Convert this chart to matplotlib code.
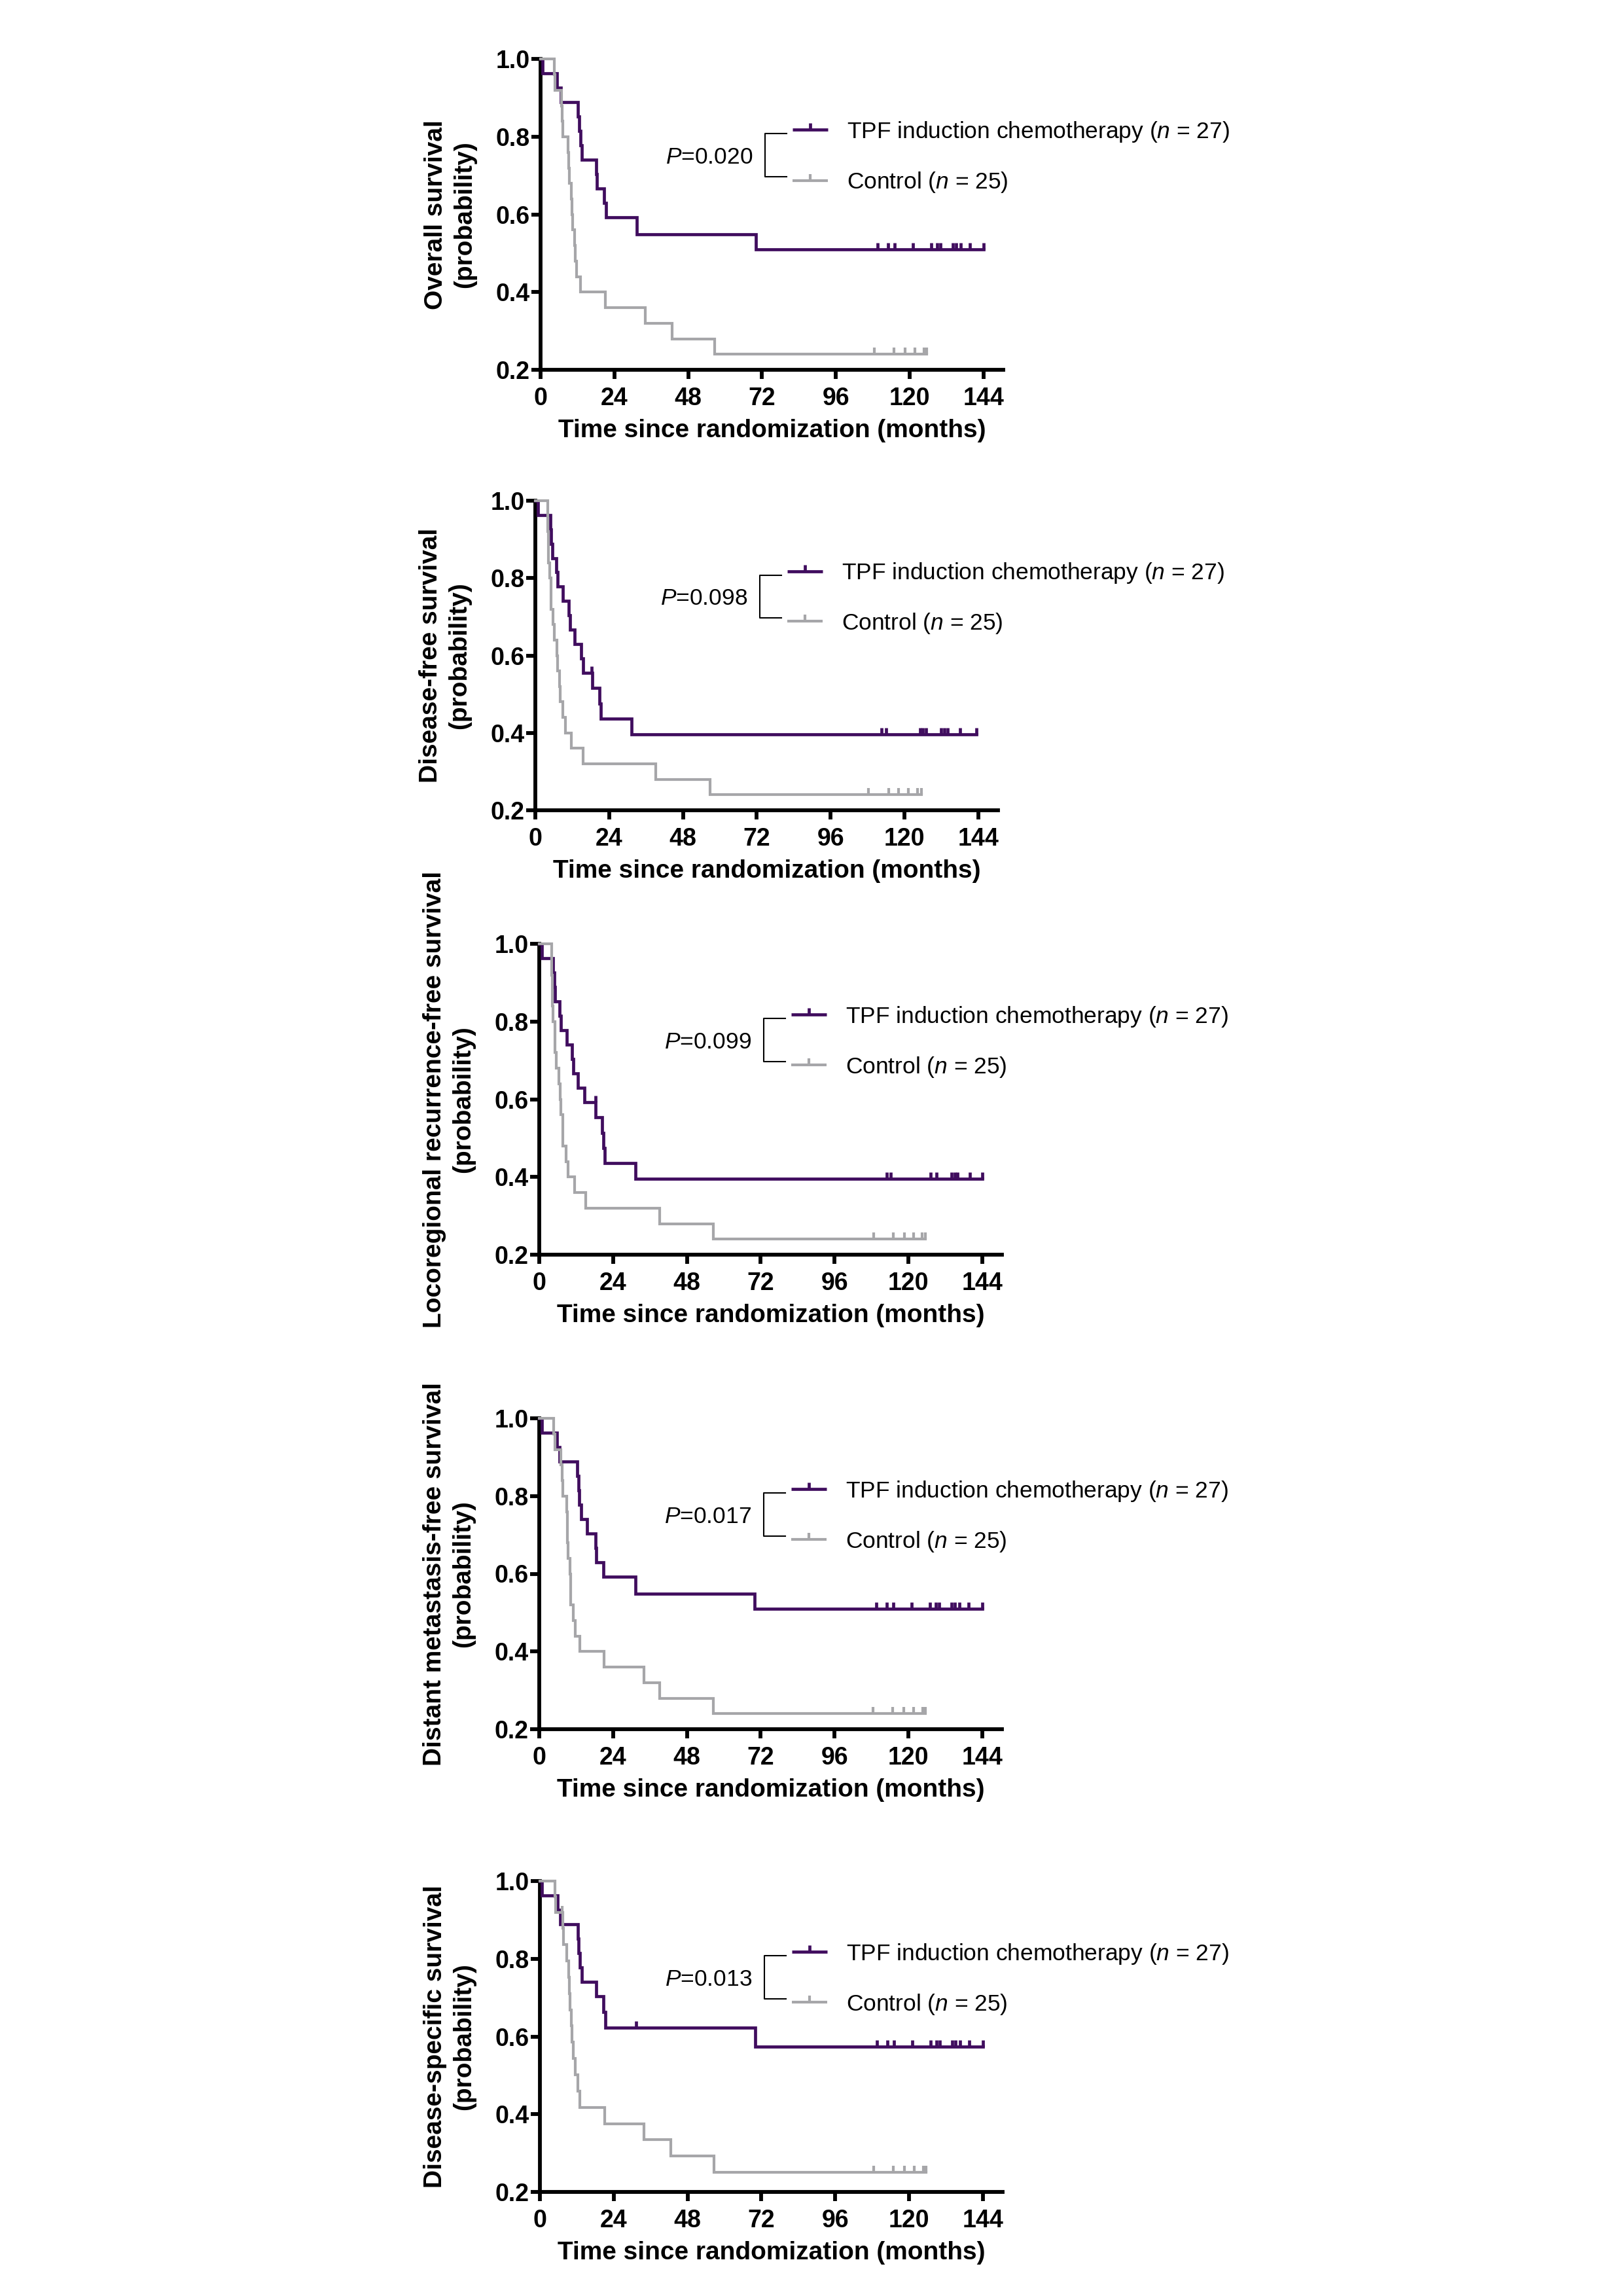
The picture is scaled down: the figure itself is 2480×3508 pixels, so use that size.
import numpy as np
import matplotlib
matplotlib.use("Agg")
import matplotlib.pyplot as plt
from matplotlib.transforms import offset_copy

plt.rcParams["font.family"] = ["Liberation Sans", "DejaVu Sans"]
plt.rcParams["mathtext.fontset"] = "custom"
plt.rcParams["mathtext.rm"] = "Liberation Sans"
plt.rcParams["mathtext.it"] = "Liberation Sans:italic"

PURPLE = "#400d5e"
GREY = "#a6a6a9"

# ---- data (months, survival probability) ----
# Overall survival
os_tpf_t = [0, 0.6, 5.3, 6.5, 12.2, 12.6, 13.0, 13.5, 18.1, 18.4, 20.6, 21.2, 31.2, 70.0]
os_tpf_s = [1.0, 0.963, 0.926, 0.889, 0.852, 0.815, 0.778, 0.741, 0.704, 0.667, 0.630, 0.593, 0.549, 0.510]
os_tpf_cens = [109.5, 113, 115, 121, 127, 129, 130, 134, 135, 136.5, 139.5, 144]
os_ctl_t = [0, 4.5, 4.7, 6.9, 7.1, 7.3, 9.0, 9.15, 9.3, 10.0, 10.2, 10.5, 11.0, 11.2, 11.8, 12.9, 21.1, 34.1, 42.8, 56.5]
os_ctl_s = [1.0, 0.96, 0.92, 0.88, 0.84, 0.80, 0.76, 0.72, 0.68, 0.64, 0.60, 0.56, 0.52, 0.48, 0.44, 0.40, 0.36, 0.32, 0.28, 0.24]
os_ctl_cens = [108.5, 114.8, 118.6, 121.6, 124.6, 125.6]

# Disease-free survival
dfs_tpf_t = [0, 0.9, 4.9, 5.1, 5.5, 6.9, 7.2, 9.0, 10.9, 11.2, 12.8, 14.9, 15.6, 18.5, 20.9, 21.3, 31.2]
dfs_tpf_s = [1.0, 0.963, 0.926, 0.889, 0.852, 0.815, 0.778, 0.741, 0.704, 0.667, 0.630, 0.593, 0.556, 0.516, 0.476, 0.437, 0.397]
dfs_tpf_cens = [18.2, 112.5, 114, 125, 126, 127, 132, 133, 134, 138, 143.5]
dfs_ctl_t = [0, 4.0, 4.1, 4.2, 4.3, 4.6, 5.0, 5.2, 5.7, 6.2, 7.1, 7.3, 7.8, 8.0, 9.0, 9.7, 11.6, 15.6, 39.2, 56.8]
dfs_ctl_s = [1.0, 0.96, 0.92, 0.88, 0.84, 0.80, 0.76, 0.72, 0.68, 0.64, 0.60, 0.56, 0.52, 0.48, 0.44, 0.40, 0.36, 0.32, 0.28, 0.24]
dfs_ctl_cens = [108.4, 114.8, 118.1, 121.3, 124.3, 125.5]

# Locoregional recurrence-free survival
lrfs_tpf_t = [0, 0.8, 4.5, 4.8, 5.05, 6.6, 7.0, 8.9, 10.7, 11.1, 12.6, 14.7, 18.4, 20.4, 20.8, 21.3, 31.2]
lrfs_tpf_s = [1.0, 0.963, 0.926, 0.889, 0.852, 0.815, 0.778, 0.741, 0.704, 0.667, 0.630, 0.593, 0.553, 0.514, 0.474, 0.435, 0.395]
lrfs_tpf_cens = [18.2, 113, 114.3, 127.2, 129.1, 134, 135, 136, 140, 144]
lrfs_ctl_t = [0, 4.0, 4.1, 4.2, 4.3, 4.5, 5.0, 5.1, 5.6, 6.3, 6.9, 7.05, 7.6, 7.75, 8.7, 9.3, 11.4, 15.2, 39.1, 56.7]
lrfs_ctl_s = [1.0, 0.96, 0.92, 0.88, 0.84, 0.80, 0.76, 0.72, 0.68, 0.64, 0.60, 0.56, 0.52, 0.48, 0.44, 0.40, 0.36, 0.32, 0.28, 0.24]
lrfs_ctl_cens = [108.8, 115, 118.7, 121.7, 124.5, 125.5]

# Distant metastasis-free survival
dmfs_tpf_t = [0, 0.8, 5.75, 6.6, 12.4, 12.7, 13.0, 13.6, 15.6, 18.4, 18.6, 20.8, 31.2, 70.0]
dmfs_tpf_s = [1.0, 0.963, 0.926, 0.889, 0.852, 0.815, 0.778, 0.741, 0.704, 0.667, 0.630, 0.593, 0.549, 0.510]
dmfs_tpf_cens = [109.5, 113, 115, 121, 127, 129, 130, 134, 135, 136.5, 139.5, 144]
dmfs_ctl_t = [0, 4.7, 5.05, 7.0, 7.4, 7.6, 9.0, 9.1, 9.25, 9.4, 10.0, 10.15, 10.3, 11.0, 11.7, 13.1, 21.1, 34.0, 39.1, 56.6]
dmfs_ctl_s = [1.0, 0.96, 0.92, 0.88, 0.84, 0.80, 0.76, 0.72, 0.68, 0.64, 0.60, 0.56, 0.52, 0.48, 0.44, 0.40, 0.36, 0.32, 0.28, 0.24]
dmfs_ctl_cens = [108.5, 114.8, 118.6, 121.6, 124.6, 125.6]

# Disease-specific survival
dss_tpf_t = [0, 0.7, 5.75, 6.7, 12.3, 12.6, 13.0, 13.7, 18.2, 20.7, 21.3, 70.0]
dss_tpf_s = [1.0, 0.963, 0.926, 0.889, 0.852, 0.815, 0.778, 0.741, 0.703, 0.664, 0.622, 0.574]
dss_tpf_cens = [31.2, 109.5, 113, 115, 121, 127, 129, 130, 134, 135, 136.5, 139.5, 144]
dss_ctl_t = [0, 4.9, 5.1, 7.4, 7.7, 8.8, 9.3, 9.5, 9.8, 10.2, 10.4, 10.9, 11.4, 12.3, 13.0, 21.1, 33.8, 42.6, 56.7]
dss_ctl_s = [1.0, 0.96, 0.92, 0.878, 0.837, 0.795, 0.753, 0.711, 0.669, 0.627, 0.585, 0.544, 0.502, 0.460, 0.418, 0.376, 0.334, 0.293, 0.251]
dss_ctl_cens = [7.2, 108.5, 114.8, 118.6, 121.6, 124.6, 125.6]

ylabels = ["Overall survival\n(probability)",
           "Disease-free survival\n(probability)",
           "Locoregional recurrence-free survival\n(probability)",
           "Distant metastasis-free survival\n(probability)",
           "Disease-specific survival\n(probability)"]
pvalues = ["0.020", "0.098", "0.099", "0.017", "0.013"]
x_ticks = [0, 24, 48, 72, 96, 120, 144]
y_ticks = [0.2, 0.4, 0.6, 0.8, 1.0]
y_ticklabels = ["0.2", "0.4", "0.6", "0.8", "1.0"]

panels = [
    (os_tpf_t, os_tpf_s, os_tpf_cens, os_ctl_t, os_ctl_s, os_ctl_cens),
    (dfs_tpf_t, dfs_tpf_s, dfs_tpf_cens, dfs_ctl_t, dfs_ctl_s, dfs_ctl_cens),
    (lrfs_tpf_t, lrfs_tpf_s, lrfs_tpf_cens, lrfs_ctl_t, lrfs_ctl_s, lrfs_ctl_cens),
    (dmfs_tpf_t, dmfs_tpf_s, dmfs_tpf_cens, dmfs_ctl_t, dmfs_ctl_s, dmfs_ctl_cens),
    (dss_tpf_t, dss_tpf_s, dss_tpf_cens, dss_ctl_t, dss_ctl_s, dss_ctl_cens),
]

# axes placement in pixels: left, top (y=1.0), bottom (y=0.2)
W, H = 2480, 3508
boxes = [(826, 90.5, 565), (818, 765, 1238), (824, 1442, 1917),
         (824, 2167, 2642), (825, 2874, 3349)]
XMAX = 150.5
PX_PER_MONTH = 4.70
LW_TPF, LW_CTL = 3.4, 3.0

fig = plt.figure(figsize=(W / 100, H / 100), dpi=100)
fig.patch.set_facecolor("white")


def km(ax, t, s, cens, color, lw, z):
    t = np.asarray(t, float)
    s = np.asarray(s, float)
    end = max(cens) if cens else t[-1]
    ax.step(np.append(t, end), np.append(s, s[-1]), where="post",
            color=color, lw=lw, clip_on=False, zorder=z,
            solid_joinstyle="miter")
    idx = np.searchsorted(t, cens, side="right") - 1
    ax.plot(cens, s[idx], ls="none", marker=2, ms=7.5, mew=lw,
            color=color, clip_on=False, zorder=z)


for i, (tt, ts, tc, ct, cs, cc) in enumerate(panels):
    left, top, bottom = boxes[i]
    width = XMAX * PX_PER_MONTH
    ax = fig.add_axes([left / W, 1 - bottom / H, width / W, (bottom - top) / H])

    km(ax, tt, ts, tc, PURPLE, LW_TPF, 3)
    km(ax, ct, cs, cc, GREY, LW_CTL, 4)

    ax.set_xlim(0, XMAX)
    ax.set_ylim(0.2, 1.0)
    ax.set_xticks(x_ticks)
    ax.set_xticklabels([str(v) for v in x_ticks], fontsize=27, fontweight="bold")
    ax.set_yticks(y_ticks)
    ax.set_yticklabels(y_ticklabels, fontsize=27, fontweight="bold")
    for side in ["top", "right"]:
        ax.spines[side].set_visible(False)
    for side in ["left", "bottom"]:
        ax.spines[side].set_linewidth(4.2)
        ax.spines[side].set_capstyle("projecting")
    ax.tick_params(axis="both", direction="out", length=10, width=4.2)
    ax.tick_params(axis="x", pad=9)
    ax.tick_params(axis="y", pad=2)

    # axis titles
    fig.text((left - 138) / W, 1 - (top + bottom) / 2 / H, ylabels[i],
             rotation=90, ha="center", va="center", multialignment="center",
             fontsize=28, fontweight="bold", linespacing=1.3)
    fig.text((left + width / 2) / W, 1 - (bottom + 93) / H,
             "Time since randomization (months)",
             ha="center", va="center", fontsize=28, fontweight="bold")

    # legend with bracket and P value
    y1, y2 = 0.818, 0.688
    ax.plot([80, 73, 73, 80], [0.808, 0.808, 0.697, 0.697], color="black",
            lw=1.5, clip_on=False)
    for yy, col, lw in [(y1, PURPLE, LW_TPF), (y2, GREY, LW_CTL)]:
        ax.plot([82, 93.5], [yy, yy], color=col, lw=lw, clip_on=False,
                solid_capstyle="butt")
        ax.plot([87.75], [yy], marker=2, ms=7.5, mew=lw, color=col,
                clip_on=False)
    fs = 25.5
    tr = offset_copy(ax.transData, fig=fig, y=-0.358 * fs, units="points")
    ax.text(99.5, y1, r"TPF induction chemotherapy ($\mathit{n}$ = 27)",
            fontsize=fs, ha="left", va="baseline", transform=tr, clip_on=False)
    ax.text(99.5, y2, r"Control ($\mathit{n}$ = 25)",
            fontsize=fs, ha="left", va="baseline", transform=tr, clip_on=False)
    ax.text(69, 0.752, r"$\mathit{P}$=" + pvalues[i],
            fontsize=fs, ha="right", va="baseline", transform=tr, clip_on=False)

fig.savefig("out.png", dpi=100, facecolor="white")
